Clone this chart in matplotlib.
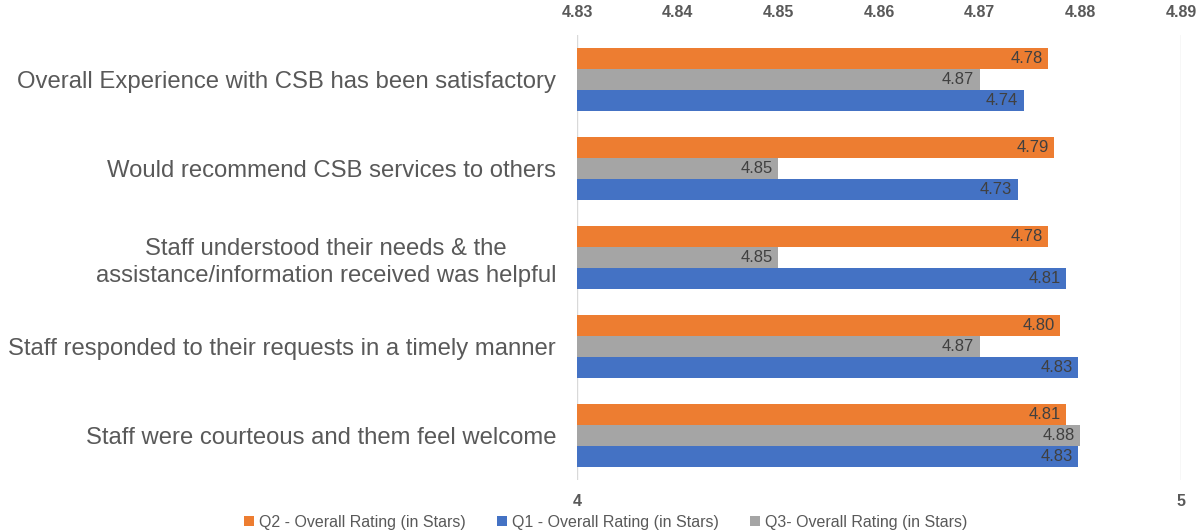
import matplotlib.pyplot as plt
import numpy as np

plt.rcParams['font.family'] = ['Liberation Sans', 'DejaVu Sans']

# Data
categories = [
    'Overall Experience with CSB has been satisfactory',
    'Would recommend CSB services to others',
    'Staff understood their needs & the\nassistance/information received was helpful',
    'Staff responded to their requests in a timely manner',
    'Staff were courteous and them feel welcome',
]
q2_vals = [4.78, 4.79, 4.78, 4.80, 4.81]
q3_vals = [4.87, 4.85, 4.85, 4.87, 4.88]
q1_vals = [4.74, 4.73, 4.81, 4.83, 4.83]

top_ticks = [4.83, 4.84, 4.85, 4.86, 4.87, 4.88, 4.89]
bottom_ticks = [4, 5]

c_q2 = '#ED7D31'
c_q1 = '#4472C4'
c_q3 = '#A5A5A5'
txt = '#595959'
lbl = '#404040'

fig = plt.figure(figsize=(11.97, 5.31), dpi=100)
ax = fig.add_axes([0.482, 0.096, 0.5046, 0.838])
ax2 = ax.twiny()

y = np.arange(len(categories))
h = 0.236

b_q2 = ax.barh(y - h, np.array(q2_vals) - 4, left=4, height=h, color=c_q2,
               label='Q2 - Overall Rating (in Stars)')
b_q1 = ax.barh(y + h, np.array(q1_vals) - 4, left=4, height=h, color=c_q1,
               label='Q1 - Overall Rating (in Stars)')
b_q3 = ax2.barh(y, np.array(q3_vals) - 4.83, left=4.83, height=h, color=c_q3,
                label='Q3- Overall Rating (in Stars)')

ax.set_xlim(4, 5)
ax2.set_xlim(4.83, 4.89)
ax.set_ylim(len(categories) - 0.5, -0.5)
ax2.set_ylim(len(categories) - 0.5, -0.5)

# value labels inside the bar ends
for a, vals, off in [(ax, q2_vals, -h), (ax, q1_vals, h), (ax2, q3_vals, 0)]:
    for i, v in enumerate(vals):
        a.annotate(f'{v:.2f}', xy=(v, i + off), xytext=(-4, 0),
                   textcoords='offset points', ha='right', va='center',
                   fontsize=12, color=lbl)

ax.set_yticks(y)
ax.set_yticklabels(categories, fontsize=17.2, color=txt, ha='right',
                   multialignment='center', linespacing=1.3)
ax.tick_params(axis='y', length=0, pad=15)

ax.set_xticks(bottom_ticks)
ax.set_xticklabels([str(t) for t in bottom_ticks], fontsize=11.5,
                   fontweight='bold', color=txt)
ax.tick_params(axis='x', length=0, pad=10)

ax2.set_xticks(top_ticks)
ax2.set_xticklabels([f'{t:.2f}' for t in top_ticks], fontsize=11.5,
                    fontweight='bold', color=txt)
ax2.tick_params(axis='x', length=0, pad=11)

ax.grid(axis='x', color='#D9D9D9', linewidth=1)
ax.set_axisbelow(True)
for a in (ax, ax2):
    for s in a.spines.values():
        s.set_visible(False)

fig.legend(handles=[b_q2, b_q1, b_q3], loc='lower center', ncol=3,
           bbox_to_anchor=(0.506, -0.025), frameon=False, fontsize=11.5,
           handlelength=0.6, handleheight=0.6, handletextpad=0.3,
           columnspacing=2.0, labelcolor=txt)

fig.savefig('out.png', dpi=100)
